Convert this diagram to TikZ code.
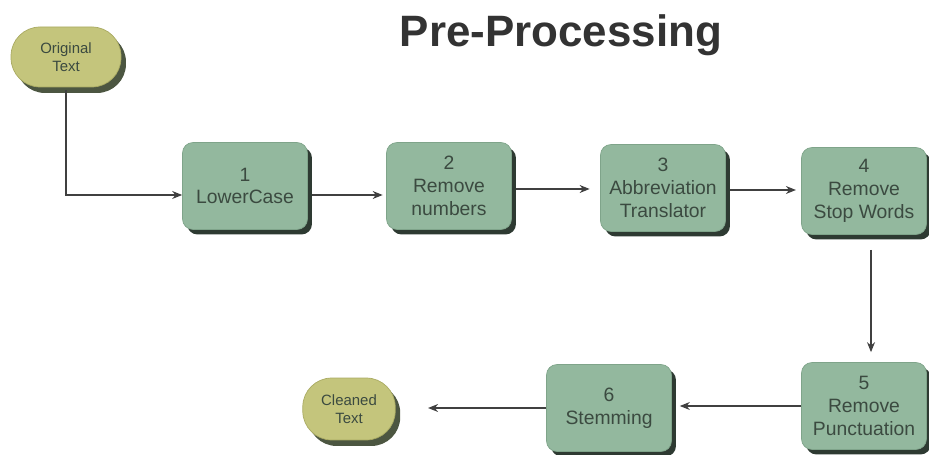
\documentclass[tikz,border=0pt]{standalone}
\usepackage{fontspec}
\setmainfont{Liberation Sans}
\usepackage{xcolor}
\usetikzlibrary{arrows.meta, positioning, shadows}

\definecolor{sage}{HTML}{93B89E}
\definecolor{sageline}{HTML}{7FA48A}
\definecolor{olive}{HTML}{C4C57C}
\definecolor{oliveline}{HTML}{A9AA62}
\definecolor{shade}{HTML}{2E3A32}
\definecolor{txt}{HTML}{3B4A40}

\begin{document}
\begin{tikzpicture}[
  x=0.02cm, y=-0.02cm,
  stepbox/.style={rectangle, draw=sageline, fill=sage, rounded corners=6pt,
              minimum width=2.5cm, minimum height=1.74cm, align=center,
              inner sep=2pt, font=\fontsize{11}{13}\selectfont, text=txt,
              drop shadow={shadow xshift=0.09cm, shadow yshift=-0.1cm, fill=shade, opacity=1}},
  termbox/.style={rectangle, draw=oliveline, fill=olive, rounded corners=0.58cm,
              minimum height=1.2cm, align=center, inner sep=1pt,
              font=\fontsize{8.5}{10}\selectfont, text=txt,
              drop shadow={shadow xshift=0.1cm, shadow yshift=-0.12cm, fill=shade!80!olive, opacity=1}},
  arrow/.style={-{Stealth[length=2mm, width=1.6mm]}, line width=0.8pt, draw=black!75}
]
\useasboundingbox (0,0) rectangle (929,455);

\node[font=\bfseries\fontsize{25}{28}\selectfont, text=black!80] (title) at (561,35) {Pre-Processing};

\node[termbox, minimum width=2.2cm] (orig) at (66,57) {Original\\Text};
\node[stepbox] (s1) at (245,186) {1\\LowerCase};
\node[stepbox] (s2) at (449,186) {2\\Remove\\numbers};
\node[stepbox] (s3) at (663,188) {3\\Abbreviation\\Translator};
\node[stepbox] (s4) at (864,191) {4\\Remove\\Stop Words};
\node[stepbox] (s5) at (864,406) {5\\Remove\\Punctuation};
\node[stepbox] (s6) at (609,408) {6\\Stemming};
\node[termbox, minimum width=1.85cm, minimum height=1.24cm] (clean) at (349,409) {Cleaned\\Text};

\coordinate (p2) at ([yshift=-0.18cm]s2.west);
\coordinate (p3) at ([yshift=-0.02cm]s3.west);
\coordinate (p4) at ([yshift=0.02cm]s4.west);

\draw[arrow] ([yshift=-0.06cm]orig.south) |- ([yshift=-0.18cm]s1.west);
\draw[arrow, shorten >=2pt] ([xshift=0.08cm]s1.east |- p2) -- (p2);
\draw[arrow, shorten >=6pt] ([xshift=0.08cm]s2.east |- p3) -- (p3);
\draw[arrow, shorten >=3pt] ([xshift=0.08cm]s3.east |- p4) -- (p4);
\draw[arrow, shorten <=0.3cm, shorten >=0.2cm] ([xshift=0.14cm]s4.south) -- ([xshift=0.14cm]s5.north);
\draw[arrow, shorten >=0.16cm] (s5.west) -- (s5.west -| s6.east);
\draw[arrow, shorten >=0.65cm] (s6.west) -- (s6.west -| clean.east);
\end{tikzpicture}
\end{document}
